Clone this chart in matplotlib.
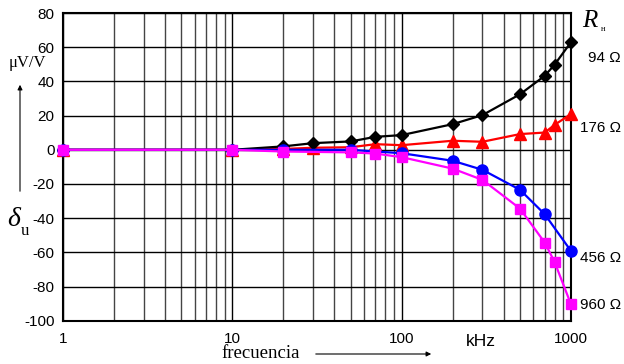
import matplotlib
matplotlib.use("Agg", force=True)
import matplotlib.pyplot as plt
from matplotlib.patches import FancyArrowPatch
from matplotlib.ticker import NullLocator

plt.rcParams.update({
    "font.family": ["Liberation Sans", "DejaVu Sans"],
    "font.size": 11,
})

# frequency in kHz and deviation in uV/V for each load resistance
f_94 = [1, 10, 20, 30, 50, 70, 100, 200, 300, 500, 700, 800, 1000]
d_94 = [0, 0, 2, 3.9, 4.9, 7.6, 8.6, 15, 20.3, 32.5, 43.3, 49.8, 63]

f_176 = [1, 10, 20, 30, 50, 70, 100, 200, 300, 500, 700, 800, 1000]
d_176 = [0, 0, 0.5, 1.2, 1.5, 3.3, 2.7, 5.3, 4.7, 9.2, 10.1, 14.6, 20.9]

f_456 = [1, 10, 20, 50, 100, 200, 300, 500, 700, 1000]
d_456 = [0, 0, 0, 0, -2, -6.4, -11.7, -23.4, -37.7, -59.2]

f_960 = [1, 10, 20, 50, 70, 100, 200, 300, 500, 700, 800, 1000]
d_960 = [0, 0, -1, -1.5, -2.2, -4.3, -11, -17.6, -34.4, -54.3, -65.6, -90.4]

labels = ["94 Ω", "176 Ω", "456 Ω", "960 Ω"]
y_ticks = [-100, -80, -60, -40, -20, 0, 20, 40, 60, 80]

W, H = 624, 364


def fx(px):
    return px / W


def fy(py):
    return 1 - py / H


fig = plt.figure(figsize=(6.24, 3.64), dpi=100)
ax = fig.add_axes([0.101, 0.119, 0.814, 0.845])

ax.plot(f_94, d_94, color="black", marker="D", markersize=6.5, lw=1.6,
        zorder=5, clip_on=False)
ax.plot(f_176, d_176, color="#ff0000", marker="^", markersize=8.5, lw=1.6,
        zorder=4, clip_on=False)
ax.plot(f_456, d_456, color="#0000ff", marker="o", markersize=8, lw=1.6,
        zorder=6, clip_on=False)
ax.plot(f_960, d_960, color="#ff00ff", marker="s", markersize=7, lw=1.6,
        zorder=7, clip_on=False)

ax.set_xscale("log")
ax.set_xlim(1, 1000)
ax.set_ylim(-100, 80)
ax.set_xticks([1, 10, 100, 1000])
ax.set_xticklabels(["1", "10", "100", "1000"])
ax.set_yticks(y_ticks)
ax.set_yticklabels([str(v) for v in y_ticks])
ax.tick_params(which="both", length=0, labelsize=11)
ax.tick_params(axis="x", pad=8)
ax.tick_params(axis="y", pad=6)
ax.grid(which="major", color="black", lw=1)
ax.grid(which="minor", axis="x", color="#444444", lw=1)
ax.minorticks_on()
ax.yaxis.set_minor_locator(NullLocator())
for s in ax.spines.values():
    s.set_linewidth(1.5)

# series labels on the right
lab_y = [58, 128, 258, 305]
for txt, yp in zip(labels, lab_y):
    fig.text(fx(621), fy(yp), txt, ha="right", va="center", fontsize=11)
fig.text(fx(590), fy(21), "R", ha="center", va="center", fontsize=18,
         style="italic", family=["Liberation Serif"])
fig.text(fx(603), fy(29), "н", ha="center", va="center",
         fontsize=6, family=["Liberation Serif"])

# y axis label with arrow
fig.text(fx(27), fy(63), "μV/V", ha="center", va="center",
         fontsize=12, family=["Liberation Serif"])
fig.text(fx(14), fy(219), "δ", ha="center", va="center", fontsize=20,
         style="italic", family=["Liberation Serif"])
fig.text(fx(25), fy(231), "u", ha="center", va="center",
         fontsize=12, family=["Liberation Serif"])
fig.add_artist(FancyArrowPatch(
    (fx(20), fy(194)), (fx(20), fy(82)),
    transform=fig.transFigure, arrowstyle="-|>", mutation_scale=7,
    color="black", lw=0.8))

# x axis label with arrow
fig.text(fx(261), fy(353), "frecuencia", ha="center", va="center",
         fontsize=13.5, family=["Liberation Serif"])
fig.add_artist(FancyArrowPatch(
    (fx(313), fy(354)), (fx(434), fy(354)),
    transform=fig.transFigure, arrowstyle="-|>", mutation_scale=7,
    color="black", lw=0.8))
fig.text(fx(481), fy(341), "kHz", ha="center", va="center", fontsize=12.5)

fig.savefig("out.png", dpi=100)
